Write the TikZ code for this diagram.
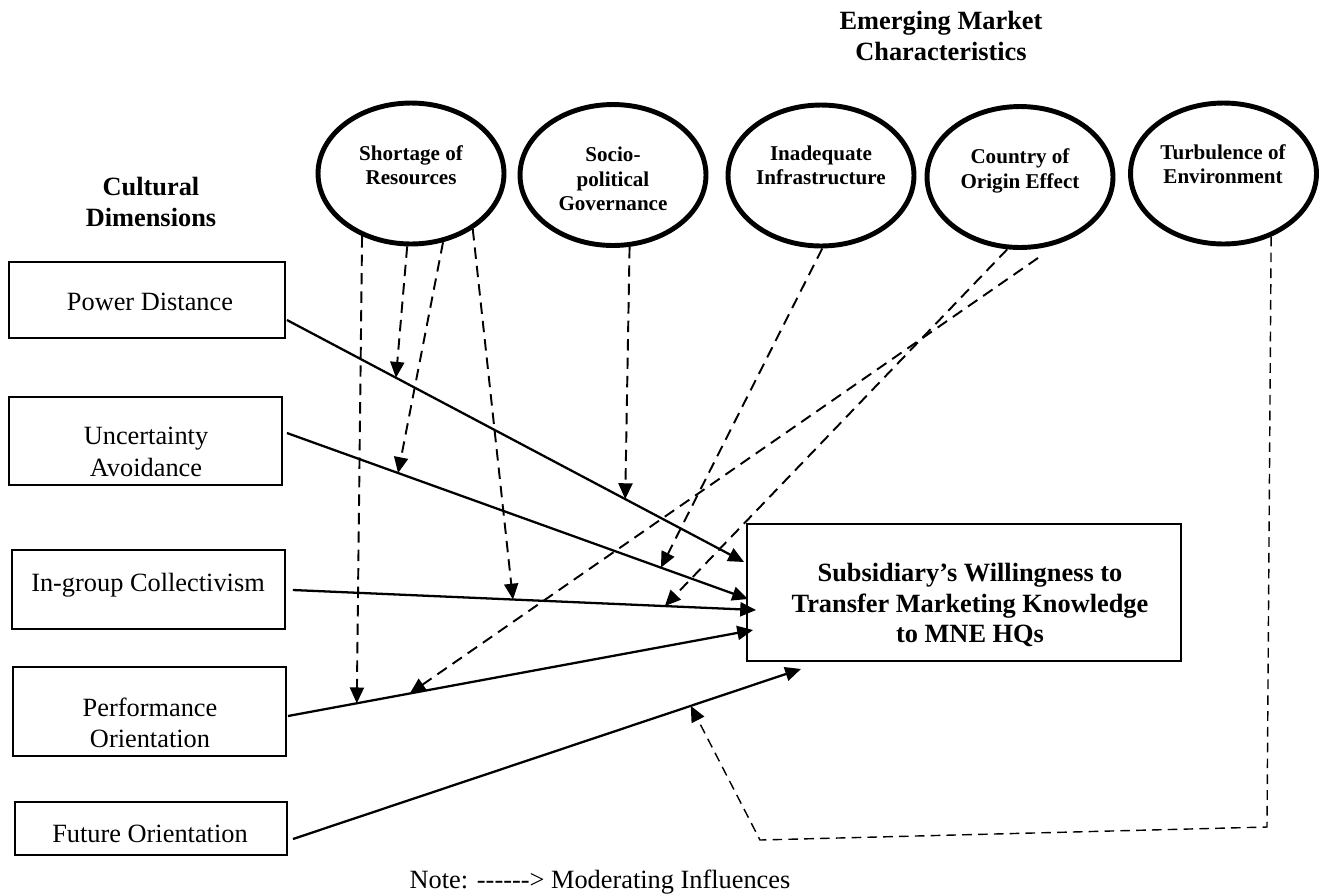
\documentclass[tikz,border=0pt]{standalone}
\usepackage{fontspec}
\setmainfont{Liberation Serif}
\usetikzlibrary{arrows.meta,calc,shapes.geometric}
\begin{document}
\begin{tikzpicture}[x=0.02cm, y=-0.02cm,
  dimbox/.style={draw, line width=1.1pt, inner sep=0pt, minimum width=5.46cm},
  charnode/.style={ellipse, draw, line width=2.8pt, inner sep=0pt, minimum width=3.72cm, minimum height=2.82cm},
  boxtext/.style={align=center, inner sep=0pt, font=\fontsize{15}{18}\selectfont},
  chartext/.style={align=center, inner sep=0pt, font=\bfseries\fontsize{12}{13.8}\selectfont},
  headtext/.style={align=center, inner sep=0pt, font=\bfseries\fontsize{15}{17.3}\selectfont},
  effect/.style={line width=1.3pt, -{Triangle[length=9pt,width=8pt]}},
  moder/.style={line width=1.1pt, dash pattern=on 6.5pt off 4pt, -{Triangle[length=9pt,width=8pt]}},
  modthin/.style={line width=0.8pt, dash pattern=on 5.5pt off 3.5pt, -{Triangle[length=9pt,width=8pt]}}]
\useasboundingbox (0,0) rectangle (1322,894);

\node[headtext] (cultitle) at (151,202) {Cultural\\Dimensions};
\node[headtext] (emtitle) at (941,36) {Emerging Market\\Characteristics};

\node[dimbox, minimum width=5.52cm, minimum height=1.52cm] (pd) at (147,300) {};
\node[dimbox, minimum height=1.76cm] (ua) at (145.5,441) {};
\node[dimbox, minimum height=1.58cm] (ig) at (148.5,589.5) {};
\node[dimbox, minimum height=1.78cm] (po) at (149.5,711.5) {};
\node[dimbox, minimum width=5.44cm, minimum height=1.06cm] (fo) at (151,828.5) {};
\node[boxtext] (pdtext) at (150,302) {Power Distance};
\node[boxtext] (uatext) at (146,452) {Uncertainty\\Avoidance};
\node[boxtext] (igtext) at (148,585) {In-group Collectivism};
\node[boxtext] (potext) at (150,723) {Performance\\Orientation};
\node[boxtext] (fotext) at (150,834) {Future Orientation};

\node[charnode] (sr) at (411,173.5) {};
\node[charnode] (sp) at (613,175) {};
\node[charnode] (ii) at (821,175.5) {};
\node[charnode] (co) at (1020,177) {};
\node[charnode] (tu) at (1223.5,173.5) {};
\node[chartext] (srtext) at (411,165) {Shortage of\\Resources};
\node[chartext] (sptext) at (613,179) {Socio-\\political\\Governance};
\node[chartext] (iitext) at (821,165.5) {Inadequate\\Infrastructure};
\node[chartext] (cotext) at (1020,171) {Country of\\Origin Effect};
\node[chartext] (tutext) at (1223,164.5) {Turbulence of\\Environment};

\node[draw, line width=1.1pt, inner sep=0pt, minimum width=8.68cm, minimum height=2.74cm] (sub) at (964,592.5) {};
\node[headtext] (subtext) at (970,605) {Subsidiary's Willingness to\\Transfer Marketing Knowledge\\to MNE HQs};

\draw[effect] ($(pd.east)+(1,20)$) -- coordinate[pos=0.2385] (pdm1) coordinate[pos=0.74] (pdm2) ($(sub.west)+(-2,-30.5)$);
\draw[effect] ($(ua.east)+(4,-8)$) -- coordinate[pos=0.241] (uam1) coordinate[pos=0.811] (uam2) ($(sub.west)+(2,6.5)$);
\draw[effect] ($(ig.east)+(7,0.5)$) -- coordinate[pos=0.475] (igm1) coordinate[pos=0.803] (igm2) ($(sub.west)+(10,17.5)$);
\draw[effect] ($(po.east)+(1,4.5)$) -- coordinate[pos=0.148] (pom1) coordinate[pos=0.262] (pom2) ($(sub.west)+(7,37.5)$);
\draw[effect] ($(fo.east)+(5,10.5)$) -- coordinate[pos=0.783] (fom) ($(sub.south)+(-163,7)$);

\coordinate (cogap) at ($(co.south)+(18,8)$);
\coordinate (tucorner) at (1267,827);
\coordinate (tubend) at (760,840);

\draw[moder] (sr.-128) -- (pom1);
\draw[moder] (sr.-93) -- (pdm1);
\draw[moder] (sr.-65) -- (uam1);
\draw[moder] (sr.-42) -- (igm1);
\draw[moder] (sp.-77) -- (pdm2);
\draw[moder] (ii.-89) -- (uam2);
\draw[moder] (co.-100) -- (igm2);
\draw[moder] (cogap) -- (pom2);
\draw[modthin] (tu.-53) -- (tucorner) -- (tubend) -- (fom);

\node[inner sep=0pt, font=\fontsize{15}{18}\selectfont] (note) at (600,882) {Note: -{}-{}-{}-{}-{}-> Moderating Influences};

\end{tikzpicture}
\end{document}
